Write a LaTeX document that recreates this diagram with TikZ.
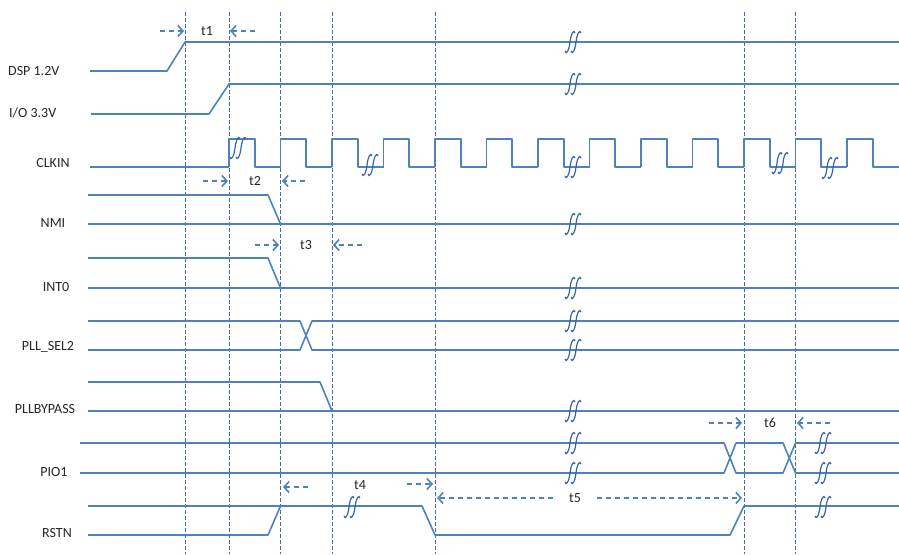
\documentclass[tikz,border=0pt]{standalone}
\usepackage{fontspec}
\setmainfont{Carlito}
\usepackage{xcolor}
\definecolor{sigblue}{RGB}{79,129,189}
\definecolor{gridblue}{RGB}{62,104,176}
\definecolor{brkblue}{RGB}{58,98,168}
\usetikzlibrary{arrows.meta,positioning,calc}
\tikzset{
  sig/.style={draw=sigblue, line width=1.6pt, line join=round},
  gridline/.style={draw=gridblue, line width=1pt, dash pattern=on 3.5pt off 2.5pt},
  brkline/.style={draw=brkblue, line width=1.2pt},
  tarrow/.style={draw=sigblue, line width=1.6pt, dash pattern=on 5pt off 4pt,
                 -{Straight Barb[length=5pt, width=11pt]}},
  siglabel/.style={font=\fontsize{14}{16}\selectfont, text=black!85, inner sep=0pt},
  tlabel/.style={font=\fontsize{14}{16}\selectfont, text=black!85, inner sep=0pt},
}

\begin{document}
\begin{tikzpicture}[x=1pt, y=-1pt]
\useasboundingbox (0,0) rectangle (899,554);

% Dashed time marks
\foreach \gx in {185,229,280.5,332,435,744,795.5}
  \draw[gridline] (\gx,12) -- (\gx,554);

% Signal names
\node[siglabel, anchor=west] (dsp) at (8,71) {DSP 1.2V};
\node[siglabel, anchor=west] (io) at (9,113) {I/O 3.3V};
\node[siglabel] (clkin) at (53,163) {CLKIN};
\node[siglabel] (nmi) at (53,223) {NMI};
\node[siglabel] (intz) at (56,287) {INT0};
\node[siglabel] (pllsel) at (48,347) {PLL\_SEL2};
\node[siglabel] (pllbyp) at (45,409) {PLLBYPASS};
\node[siglabel] (pio) at (54,472) {PIO1};
\node[siglabel] (rstn) at (57,533) {RSTN};

% Supplies
\draw[sig] (90,71) -- (167,71) -- (185,42) -- (899,42);
\draw[sig] (91,114) -- (209,114) -- (229,84) -- (899,84);

% Clock
\draw[sig] (90,167) -- (229,167);
\foreach \k in {0,...,12}
  \draw[sig] (229+51.5*\k,167) -- ++(0,-28) -- ++(25.75,0) -- ++(0,28) -- ++(25.75,0);

% NMI and INT0
\draw[sig] (88,195) -- (268,195) -- (280.5,224);
\draw[sig] (88,224) -- (899,224);
\draw[sig] (88,258) -- (268,258) -- (280.5,288);
\draw[sig] (88,288) -- (899,288);

% PLL_SEL2
\draw[sig] (88,321) -- (300,321) -- (312,350) -- (899,350);
\draw[sig] (88,350) -- (300,350) -- (312,321) -- (899,321);

% PLLBYPASS
\draw[sig] (88,382) -- (320,382) -- (332,411);
\draw[sig] (88,411) -- (899,411);

% PIO1
\draw[sig] (80,443) -- (724,443) -- (736,473) -- (783,473) -- (795.5,443) -- (899,443);
\draw[sig] (80,473) -- (724,473) -- (736,443) -- (783,443) -- (795.5,473) -- (899,473);

% RSTN
\draw[sig] (88,535) -- (268,535) -- (280.5,506);
\draw[sig] (88,506) -- (422,506) -- (435,535) -- (730,535) -- (744,506) -- (899,506);

% Break marks
\foreach \bx/\by in {573/42,573/84,238/148,370/165,573/167,780/163,830/168,
                     573/224,573/288,573/321,573/350,573/411,573/443,573/473,
                     823/443,823/473,352/507,823/507}
  \foreach \dx in {-3,3}
    \draw[brkline, shift={(\bx+\dx,\by)}]
      (-5,9) .. controls (-4,13) and (-1,9) .. (0,0) .. controls (1,-9) and (4,-13) .. (5,-9);

% Timing labels
\node[tlabel] (tone) at (207,31) {t1};
\node[tlabel] (ttwo) at (255,181) {t2};
\node[tlabel] (tthree) at (306,245) {t3};
\node[tlabel] (tfour) at (360,485) {t4};
\node[tlabel] (tfive) at (575,498) {t5};
\node[tlabel] (tsix) at (770,423) {t6};

% Timing arrows
\draw[tarrow] (160,31) -- (184,31);
\draw[tarrow] (255,31) -- (230,31);
\draw[tarrow] (203,181) -- (228,181);
\draw[tarrow] (305,181) -- (282,181);
\draw[tarrow] (255,245) -- (279,245);
\draw[tarrow] (362,245) -- (333,245);
\draw[tarrow] (308,487) -- (283,487);
\draw[tarrow] (407,484) -- (433,484);
\draw[tarrow] (553,498) -- (437,498);
\draw[tarrow] (597,498) -- (742,498);
\draw[tarrow] (709,423) -- (742,423);
\draw[tarrow] (830,423) -- (797,423);
\end{tikzpicture}
\end{document}
